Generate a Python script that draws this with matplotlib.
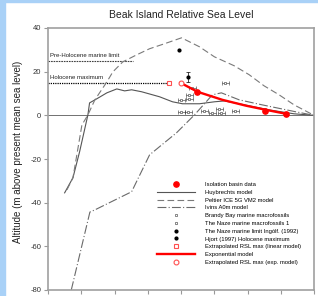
import numpy as np
import matplotlib
matplotlib.use("Agg")
import matplotlib.pyplot as plt
from matplotlib.patches import Rectangle
from matplotlib.lines import Line2D

plt.rcParams['font.family'] = ['Liberation Sans', 'DejaVu Sans']

# ages in ka BP, altitudes in m
huy_age = [15.0, 14.5, 14.1, 13.6, 13.5, 13.06, 12.46, 11.86, 11.39, 10.97, 10.37, 9.29, 8.51, 7.91, 6.89, 5.99, 5.39, 4.5, 2.7, 1.2, 0.0]
huy_rsl = [-35.5, -28.6, -16.7, 0.2, 5.7, 7.6, 10.3, 12.1, 11.2, 11.7, 10.8, 8.5, 6.2, 5.3, 5.3, 6.2, 6.6, 5.3, 2.5, 0.7, 0.0]

pel_age = [14.86, 14.5, 13.96, 13.6, 13.18, 12.46, 12.1, 11.5, 10.67, 9.89, 8.99, 7.97, 6.89, 5.99, 4.8, 3.9, 3.0, 2.1, 1.2, 0.0]
pel_rsl = [-34.1, -28.6, -4.4, 0.2, 7.1, 15.3, 19.9, 24.5, 27.7, 30.5, 32.8, 35.5, 31.4, 26.8, 22.7, 18.6, 13.5, 9.4, 4.8, 0.0]

ivi_age = [14.6, 13.48, 13.18, 10.97, 9.89, 8.27, 7.19, 6.11, 5.57, 4.5, 3.12, 1.08, 0.0]
ivi_rsl = [-80.0, -44.3, -43.3, -35.0, -18.1, -8.0, 0.2, 9.4, 10.3, 7.1, 4.8, 1.6, 0.0]

iso_age = [7.01, 2.94, 1.68]
iso_rsl = [10.8, 2.1, 0.7]

exp_age = [8.03, 7.01, 5.51, 4.08, 2.88, 1.68]
exp_rsl = [14.9, 10.8, 7.1, 4.4, 2.5, 0.7]

brandy_age = [5.34, 7.31, 7.97, 6.59, 5.69, 4.74]
brandy_rsl = [14.9, 12.6, 7.1, 2.1, 3.0, 2.1]
naze_age = [7.49, 7.49, 7.97, 7.55, 6.11, 5.57]
naze_rsl = [7.5, 9.2, 1.6, 1.6, 1.1, 1.1]
age_err = 0.2

naze_limit = (8.15, 30.0)
hjort = (7.55, 17.6, 2.3)
lin_max = (8.75, 15.0)
exp_max = (8.03, 15.0)
holo_max = 15.0
pre_holo = 25.0

fig = plt.figure(figsize=(3.18, 2.96), dpi=100)
fig.patches.append(Rectangle((0, 0), 5 / 318, 1, transform=fig.transFigure, color="#a9d1f7", zorder=-1))
fig.patches.append(Rectangle((0, 1 - 2 / 296), 1, 2 / 296, transform=fig.transFigure, color="#a9d1f7", zorder=-1))
ax = fig.add_axes([48 / 318, 6 / 296, 266 / 318, 262 / 296])

ax.axhline(0, color="#707070", lw=0.7, zorder=1)
ax.plot([16, 10.9], [pre_holo, pre_holo], color="#404040", lw=0.8, dashes=(1.5, 0.8))
ax.plot([16, lin_max[0]], [holo_max, holo_max], color="black", lw=0.9, dashes=(1, 0.8))
ax.text(15.85, pre_holo + 1.3, "Pre-Holocene marine limit", fontsize=4.3, color="#202020", va="bottom")
ax.text(15.85, holo_max + 1.3, "Holocene maximum", fontsize=4.3, color="#202020", va="bottom")

h_iso, = ax.plot(iso_age, iso_rsl, "o", color="red", ms=3.8, zorder=5)
h_huy, = ax.plot(huy_age, huy_rsl, color="#555555", lw=0.8)
h_pel, = ax.plot(pel_age, pel_rsl, color="#7a7a7a", lw=0.8, dashes=(6, 3))
h_ivi, = ax.plot(ivi_age, ivi_rsl, color="#6a6a6a", lw=0.8, dashes=(8, 2, 1, 2))
ax.errorbar(brandy_age, brandy_rsl, xerr=age_err, fmt="s", ms=1.8, mfc="white", mec="#303030", mew=0.4,
            ecolor="#303030", elinewidth=0.4, capsize=1.3, capthick=0.4)
ax.errorbar(naze_age, naze_rsl, xerr=age_err, fmt="o", ms=1.8, mfc="white", mec="#303030", mew=0.4,
            ecolor="#303030", elinewidth=0.4, capsize=1.3, capthick=0.4)
h_lim, = ax.plot(naze_limit[0], naze_limit[1], "o", color="black", ms=2)
ax.errorbar(hjort[0], hjort[1], yerr=hjort[2], fmt="o", color="black", ms=2, elinewidth=0.5,
            capsize=1.5, capthick=0.5)
h_lin, = ax.plot(lin_max[0], lin_max[1], "s", mfc="white", mec="#ff5050", mew=0.8, ms=3.2, zorder=6)
h_exp, = ax.plot(exp_age, exp_rsl, color="red", lw=1.7, zorder=4)
h_emx, = ax.plot(exp_max[0], exp_max[1], "o", mfc="white", mec="#ff5050", mew=0.8, ms=3.5, zorder=6)

h_bra = Line2D([], [], ls="none", marker="s", ms=1.8, mfc="white", mec="#303030", mew=0.4)
h_naz = Line2D([], [], ls="none", marker="o", ms=1.8, mfc="white", mec="#303030", mew=0.4)
h_hjo = Line2D([], [], ls="none", marker="o", ms=2, color="black")

handles = [h_iso, h_huy, h_pel, h_ivi, h_bra, h_naz, h_lim, h_hjo, h_lin, h_exp, h_emx]
labels = ["Isolation basin data", "Huybrechts model", "Peltier ICE 5G VM2 model", "Ivins A0m model",
          "Brandy Bay marine macrofossils", "The Naze marine macrofossils 1",
          "The Naze marine limit Ingólf. (1992)", "Hjort (1997) Holocene maximum",
          "Extrapolated RSL max (linear model)", "Exponential model", "Extrapolated RSL max (exp. model)"]

ax.set_xlim(16, 0)
ax.set_ylim(-80, 40)
ax.set_xticks(np.arange(16, -1, -2))
ax.set_xticklabels([])
ax.set_yticks([40, 20, 0, -20, -40, -60, -80])
ax.set_yticklabels(["40", "20", "0", "-20", "-40", "-60", "-80"])
ax.tick_params(direction="out", length=3, width=0.8, color="#999999", labelsize=5.5,
               labelcolor="#333333", pad=2)
for s in ax.spines.values():
    s.set_color("#a0a0a0")
    s.set_linewidth(1.2)

ax.set_title("Beak Island Relative Sea Level", fontsize=7.5, color="#222222", pad=7)
ax.set_ylabel("Altitude (m above present mean sea level)", fontsize=7, color="#222222")
ax.yaxis.set_label_coords(-0.094, 0.527)

ax.legend(handles, labels, loc="upper left", bbox_to_anchor=(0.41, 0.412), frameon=False, fontsize=4.2,
          handlelength=6.5, handletextpad=1.7, labelspacing=0.46, borderpad=0, borderaxespad=0,
          numpoints=1)

fig.savefig("out.png", dpi=100)
